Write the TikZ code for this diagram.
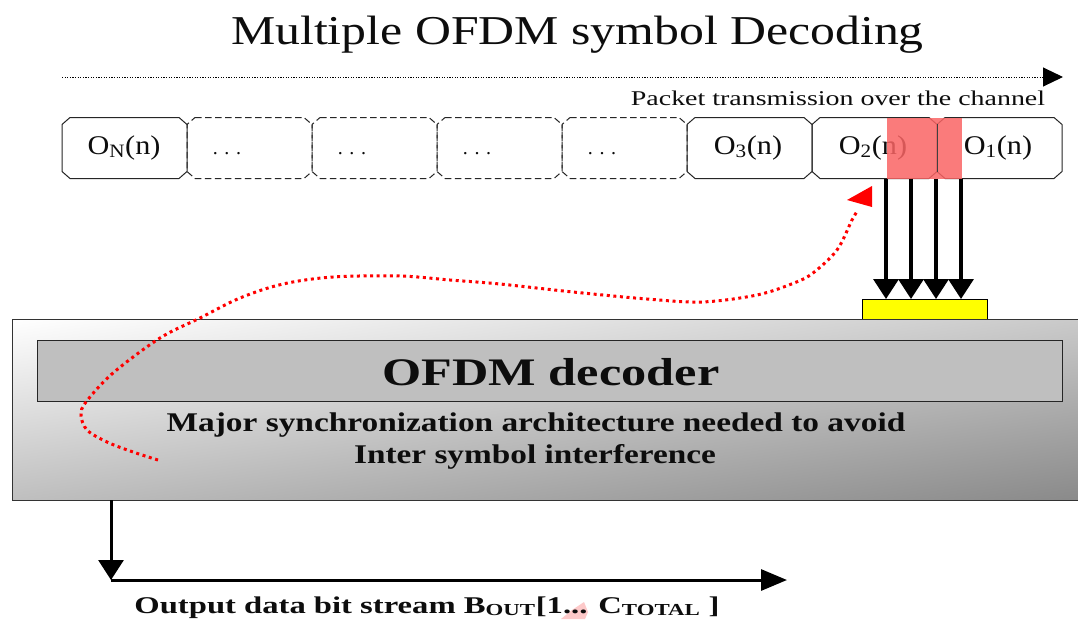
\documentclass[tikz,border=0pt]{standalone}
\usepackage{fontspec}
\setmainfont{Liberation Serif}
\usetikzlibrary{arrows.meta}
\definecolor{ylw}{RGB}{255,255,0}
\definecolor{rd}{RGB}{255,0,0}
\definecolor{pnk}{RGB}{250,100,100}
\tikzset{
 x=1pt,y=-1pt,
 symline/.style={draw=black!85,line width=1pt},
 symdash/.style={symline,dash pattern=on 6.5pt off 3.5pt},
 big/.style={-{Triangle[length=20pt,width=25pt]},line width=3.5pt,black},
 lab/.style={inner sep=0pt,anchor=base,text=black!95},
 symlab/.style={lab,font=\fontsize{27}{27}\selectfont},
 dotlab/.style={lab,font=\fontsize{20}{20}\selectfont},
}
\newcommand{\symbox}[2]{\draw[#2] (#1+8,117.5) -- (#1+117,117.5) -- (#1+125,124.5) -- (#1+125,171.5) -- (#1+117,178.5) -- (#1+8,178.5) -- (#1,171.5) -- (#1,124.5) -- cycle;}
\newcommand{\sub}[1]{\textsubscript{\raisebox{.2ex}{#1}}}
\begin{document}
\begin{tikzpicture}
\useasboundingbox (0,0) rectangle (1078,619);
\fill[white] (0,0) rectangle (1078,619);
\node[lab,font=\fontsize{41}{41}\selectfont] (title) at (577.5,44) {\scalebox{1.214}[1]{Multiple OFDM symbol Decoding}};
\coordinate (ds) at (62,77); \coordinate (de) at (1063,77);
\draw[line width=1pt,dash pattern=on 1.2pt off 1.4pt,-{Triangle[length=20pt,width=19pt]}] (ds) -- (de);
\node[lab,font=\fontsize{21}{21}\selectfont] (pkt) at (838,105) {\scalebox{1.33}[1]{Packet transmission over the channel}};

\symbox{187}{symdash}
\symbox{312}{symdash}
\symbox{437}{symdash}
\symbox{562}{symdash}
\symbox{62}{symline}
\symbox{687}{symline}
\symbox{812}{symline}
\symbox{937}{symline}
\node[symlab] (tn) at (124,154) {\scalebox{1.12}[1]{O\sub{N}(n)}};
\node[dotlab] (t1) at (227,154) {. . .};
\node[dotlab] (t2) at (352,154) {. . .};
\node[dotlab] (t3) at (477,154) {. . .};
\node[dotlab] (t4) at (602,154) {. . .};
\node[symlab] (t5) at (748,154) {\scalebox{1.12}[1]{O\sub{3}(n)}};
\node[symlab] (t6) at (873,154) {\scalebox{1.12}[1]{O\sub{2}(n)}};
\node[symlab] (t7) at (998,154) {\scalebox{1.12}[1]{O\sub{1}(n)}};
\fill[pnk,opacity=.85] (887,117.5) rectangle (962,178.5);
\draw[black!75,line width=1pt] (937,124) -- (937,172);

\node[draw=black,line width=1pt,fill=ylw,minimum width=125pt,minimum height=20pt,inner sep=0pt,anchor=north west] (yb) at (862,299) {};
\coordinate (a1) at (886,178.5); \coordinate (b1) at (886,299);
\coordinate (a2) at (911,178.5); \coordinate (b2) at (911,299);
\coordinate (a3) at (936,178.5); \coordinate (b3) at (936,299);
\coordinate (a4) at (961,178.5); \coordinate (b4) at (961,299);
\foreach \i in {1,2,3,4} \draw[big] (a\i) -- (b\i);

\begin{scope}
\clip (12,319) rectangle (1078,500);
\shade[transform canvas={rotate around={8:(545,409.5)}},top color=white,bottom color=black!46] (-255,245) rectangle (1345,574);
\end{scope}
\node[draw=black!80,line width=1.2pt,minimum width=1066pt,minimum height=181pt,inner sep=0pt,anchor=north west] (dec) at (12,319) {};
\node[draw=black!85,line width=1.2pt,fill=black!25,minimum width=1025pt,minimum height=61pt,inner sep=0pt,anchor=north west] (inner) at (37,339.5) {};
\node[lab,font=\fontsize{39}{39}\selectfont\bfseries] (ot) at (551,385) {\scalebox{1.29}[1]{OFDM decoder}};
\node[lab,font=\fontsize{27}{27}\selectfont\bfseries] (l1) at (536,431) {\scalebox{1.236}[1]{Major synchronization architecture needed to avoid}};
\node[lab,font=\fontsize{27}{27}\selectfont\bfseries] (l2) at (535,463) {\scalebox{1.233}[1]{Inter symbol interference}};

\coordinate (rs) at (158,460); \coordinate (re) at (872,186);
\draw[rd,line width=3pt,dash pattern=on 3pt off 3.6pt] plot[smooth,tension=.55] coordinates {(rs) (133,452) (107,442) (87,430) (81,415) (86,402) (113,373) (160,338) (200,318) (240,298) (283,284) (333,277) (400,276) (450,280) (500,284) (573,292) (647,299) (702,302) (757,295) (794,283) (813,273) (837,250) (852,220) (858,210)};
\fill[rd] (re) -- (847,200) -- (872,207) -- cycle;

\coordinate (os) at (111,500); \coordinate (oc) at (111,580); \coordinate (oe) at (787,580);
\draw[big,line width=3pt] (os) -- (oc);
\draw[big,line width=3pt,-{Triangle[length=26pt,width=21pt]}] (oc) -- (oe);
\fill[pnk!35] (561,619) -- (572,610) -- (584,602) -- (588,612) -- (585,619) -- cycle;
\node[lab,font=\fontsize{24}{24}\selectfont\bfseries] (out) at (427,613) {\scalebox{1.36}[1]{Output data bit stream B\sub{OUT}[1... C\sub{TOTAL} ]}};
\end{tikzpicture}
\end{document}
